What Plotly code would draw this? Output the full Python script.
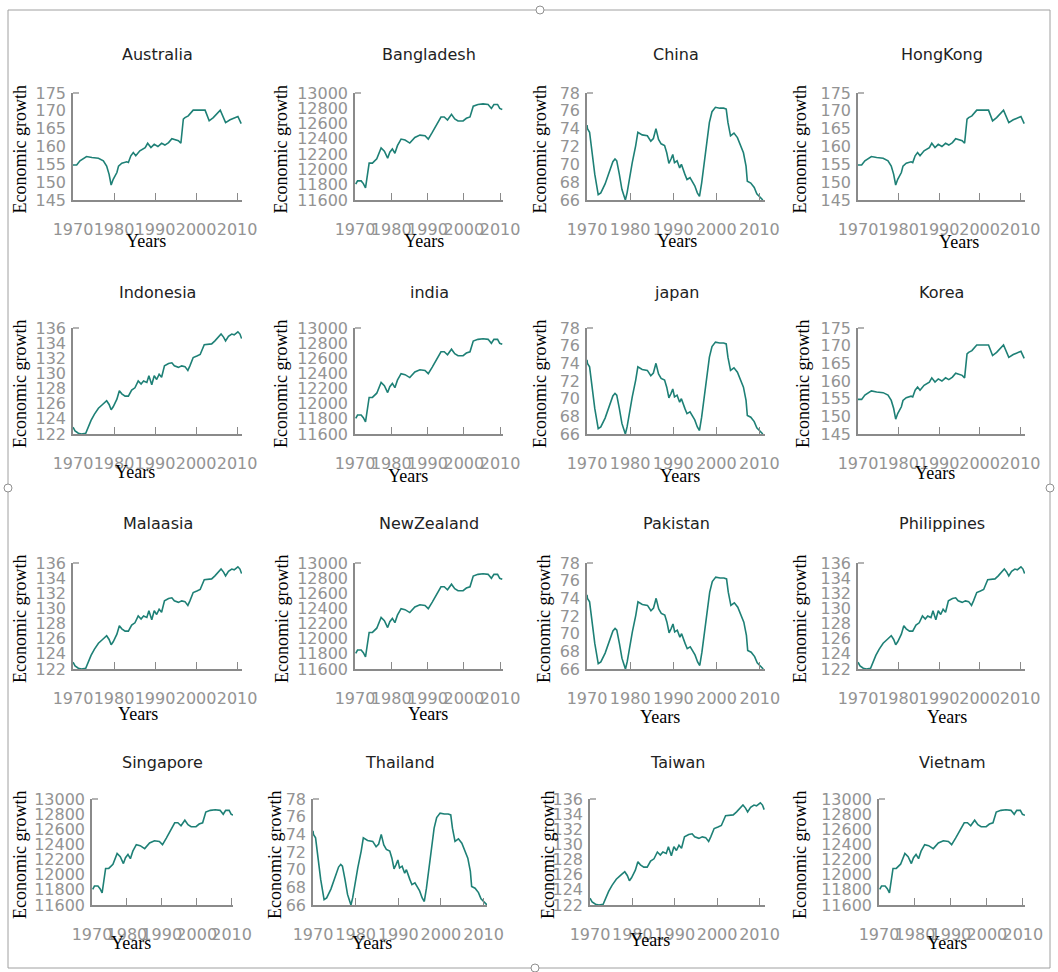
import plotly.graph_objects as go

# ---------------- data ----------------
countries = ["Australia", "Bangladesh", "China", "HongKong",
             "Indonesia", "india", "japan", "Korea",
             "Malaasia", "NewZealand", "Pakistan", "Philippines",
             "Singapore", "Thailand", "Taiwan", "Vietnam"]
series_of = ["A", "B", "C", "A",
             "D", "B", "C", "A",
             "D", "B", "C", "D",
             "B", "C", "D", "B"]

year_ticks = [1970, 1980, 1990, 2000, 2010]

a_years = [1970.0, 1970.9, 1971.7, 1973.3, 1974.6, 1976.2, 1977.4, 1978.2, 1978.8, 1979.3,
           1979.8, 1980.7, 1981.1, 1981.9, 1983.1, 1983.5, 1984.1, 1984.7, 1985.3, 1986.3,
           1987.6, 1988.2, 1989.0, 1989.8, 1990.7, 1991.6, 1992.4, 1993.3, 1994.1, 1994.9,
           1995.7, 1996.3, 1996.9, 1997.3, 1998.1, 1999.3, 2000.6, 2002.2, 2003.2, 2004.2,
           2005.9, 2007.2, 2008.3, 2009.1, 2010.2, 2011.0]
a_values = [154.8, 154.8, 156.0, 157.2, 156.9, 156.7, 156.0, 154.5, 152.2, 149.2,
            150.8, 152.7, 154.5, 155.3, 155.7, 155.5, 157.4, 158.3, 157.4, 158.8,
            159.7, 160.9, 159.7, 160.6, 160.0, 160.9, 160.4, 161.1, 162.2, 161.9,
            161.6, 160.9, 167.7, 168.1, 168.6, 170.2, 170.2, 170.2, 167.2, 168.1,
            170.2, 166.7, 167.5, 167.8, 168.4, 166.4]
a_ticks = [145, 150, 155, 160, 165, 170, 175]

b_years = [1970.2, 1970.7, 1971.7, 1972.3, 1972.9, 1973.5, 1973.9, 1974.8, 1976.0, 1977.2,
           1978.1, 1979.0, 1979.6, 1980.3, 1981.0, 1981.7, 1982.7, 1983.8, 1985.1, 1986.5,
           1987.9, 1989.3, 1990.2, 1991.3, 1992.5, 1993.7, 1994.6, 1995.5, 1996.6, 1997.5,
           1998.4, 1999.8, 2000.7, 2001.7, 2002.6, 2003.9, 2005.3, 2006.7, 2007.6, 2008.3,
           2009.3, 2009.9, 2010.6]
b_values = [11807, 11850, 11850, 11815, 11760, 11966, 12083, 12083, 12139, 12281,
            12238, 12147, 12225, 12268, 12212, 12311, 12397, 12384, 12345, 12419,
            12449, 12440, 12397, 12484, 12591, 12686, 12686, 12647, 12720, 12660,
            12634, 12634, 12669, 12686, 12828, 12850, 12858, 12850, 12798, 12850,
            12850, 12798, 12785]
b_ticks = [11600, 11800, 12000, 12200, 12400, 12600, 12800, 13000]

c_years = [1970.0, 1970.1, 1970.6, 1971.2, 1971.8, 1972.6, 1973.2, 1974.2, 1975.1, 1976.0,
           1976.5, 1976.9, 1977.5, 1978.1, 1978.5, 1978.9, 1979.3, 1979.7, 1980.5, 1981.3,
           1981.8, 1982.8, 1984.0, 1984.8, 1985.4, 1986.0, 1986.6, 1987.2, 1988.0, 1988.5,
           1989.0, 1989.5, 1989.9, 1990.3, 1990.9, 1991.5, 1991.9, 1992.7, 1993.2, 1993.9,
           1994.6, 1995.0, 1995.6, 1996.1, 1996.6, 1997.2, 1997.8, 1998.4, 1999.0, 1999.8,
           2000.8, 2001.7, 2002.3, 2002.7, 2003.3, 2004.1, 2004.9, 2005.5, 2006.3, 2006.9,
           2007.2, 2008.0, 2008.8, 2009.4, 2010.2, 2010.8]
c_values = [74.4, 74.0, 73.6, 71.3, 68.9, 66.6, 66.8, 67.8, 69.1, 70.3,
            70.6, 70.4, 68.9, 67.2, 66.6, 66.0, 66.8, 68.0, 70.2, 72.1,
            73.6, 73.3, 73.2, 72.6, 72.9, 74.0, 72.8, 72.3, 72.1, 71.3,
            70.1, 70.6, 71.1, 70.2, 70.4, 69.6, 70.0, 68.9, 68.3, 68.5,
            67.9, 67.6, 66.8, 66.4, 67.9, 70.2, 72.3, 74.7, 75.9, 76.4,
            76.3, 76.3, 76.2, 74.7, 73.2, 73.5, 73.0, 72.3, 71.3, 69.8,
            68.1, 67.9, 67.4, 66.7, 66.3, 66.0]
c_ticks = [66, 68, 70, 72, 74, 76, 78]

d_years = [1970.0, 1970.5, 1971.3, 1972.1, 1973.1, 1973.7, 1974.4, 1975.2, 1976.2, 1977.2,
           1978.2, 1978.8, 1979.3, 1979.8, 1980.7, 1981.3, 1981.9, 1982.7, 1983.5, 1984.3,
           1985.1, 1985.9, 1986.6, 1987.2, 1988.0, 1988.5, 1989.2, 1989.8, 1990.4, 1991.0,
           1991.6, 1992.3, 1993.3, 1994.1, 1994.7, 1995.7, 1996.5, 1997.3, 1998.0, 1998.5,
           1999.3, 2000.2, 2001.0, 2002.0, 2003.0, 2003.8, 2004.6, 2005.4, 2006.1, 2006.7,
           2007.2, 2007.9, 2008.7, 2009.3, 2010.2, 2010.7, 2011.1]
d_values = [122.9, 122.4, 122.1, 122.0, 122.1, 122.9, 123.8, 124.6, 125.4, 125.9,
            126.4, 125.9, 125.2, 125.6, 126.6, 127.7, 127.3, 127.0, 127.0, 127.8,
            128.1, 129.0, 128.6, 129.0, 128.8, 129.7, 128.5, 129.7, 129.2, 129.9,
            129.5, 131.0, 131.3, 131.4, 131.0, 130.8, 131.0, 130.9, 130.4, 131.0,
            132.1, 132.3, 132.5, 133.8, 133.9, 133.9, 134.3, 134.8, 135.2, 134.8,
            134.3, 134.9, 135.2, 135.1, 135.5, 135.2, 134.6]
d_ticks = [122, 124, 126, 128, 130, 132, 134, 136]

series = {
    "A": (a_years, a_values, a_ticks),
    "B": (b_years, b_values, b_ticks),
    "C": (c_years, c_values, c_ticks),
    "D": (d_years, d_values, d_ticks),
}

# ---------------- layout (pixels) ----------------
W, H = 1058, 972
panel_x = [(73, 242), (355, 503), (587, 765), (858, 1025),
           (73, 242), (355, 503), (587, 765), (858, 1025),
           (73, 242), (355, 503), (587, 765), (858, 1025),
           (92, 233), (313, 487), (590, 765), (879, 1025)]
row_y = [(93, 200), (328, 434), (563, 669), (799, 905)]
title_y = [55, 292, 523, 762]
years_pos = [(146, 241), (424, 241), (677, 241), (959, 242),
             (135, 472), (408, 476), (680, 476), (935, 473),
             (138, 714), (428, 714), (660, 717), (947, 717),
             (131, 943), (372, 943), (650, 940), (947, 943)]
ylab_x = [20, 281, 540, 800,
          20, 281, 540, 803,
          20, 282, 544, 800,
          20, 275, 548, 800]
x_end = [2011.2, 2010.8, 2011.3, 2011.2,
         2011.2, 2010.8, 2011.3, 2011.2,
         2011.2, 2010.8, 2011.2, 2011.2,
         2010.4, 2010.8, 2011.3, 2010.6]

LINE = "#1e8076"
AX = "#8a8a8a"
TICKFONT = dict(family="DejaVu Sans", size=16, color="#939393")
SERIF = dict(family="Liberation Serif", size=18, color="#000000")


def fx(x):
    return x / W


def fy(y):
    return 1 - y / H


fig = go.Figure()
annotations = []
shapes = []
layout_axes = {}
for i, (name, key) in enumerate(zip(countries, series_of)):
    idx = i + 1
    sfx = "" if idx == 1 else str(idx)
    xs, ys, yt = series[key]
    x0, x1 = panel_x[i]
    y0, y1 = row_y[i // 4]
    fig.add_trace(go.Scatter(x=xs, y=ys, mode="lines",
                             line=dict(color=LINE, width=1.6),
                             xaxis="x" + sfx, yaxis="y" + sfx,
                             showlegend=False, hoverinfo="skip"))
    layout_axes["xaxis" + sfx] = dict(
        domain=[fx(x0), fx(x1)], anchor="y" + sfx,
        range=[1970, x_end[i]], tickvals=year_ticks,
        ticktext=[str(v) for v in year_ticks],
        ticks="inside", ticklen=7, tickwidth=1.3, tickcolor=AX,
        showline=True, linecolor=AX, linewidth=1.5,
        showgrid=False, zeroline=False, tickfont=TICKFONT, tickangle=0,
        ticklabelstandoff=14, automargin=False, fixedrange=True)
    layout_axes["yaxis" + sfx] = dict(
        domain=[fy(y1), fy(y0)], anchor="x" + sfx,
        range=[yt[0], yt[-1]], tickvals=yt,
        ticktext=[str(v) for v in yt],
        ticks="", showline=True, linecolor=AX, linewidth=1.5,
        showgrid=False, zeroline=False, tickfont=TICKFONT,
        ticklabelstandoff=2, automargin=False, fixedrange=True)
    # small cap tick at the top of the y axis
    shapes.append(dict(type="line", xref="x" + sfx + " domain", yref="y" + sfx + " domain",
                       x0=0, x1=6 / (x1 - x0), y0=1, y1=1,
                       line=dict(color=AX, width=1.3)))
    # panel title
    annotations.append(dict(text=name, x=fx((x0 + x1) / 2), y=fy(title_y[i // 4]),
                            xref="paper", yref="paper", showarrow=False,
                            xanchor="center", yanchor="middle",
                            font=dict(family="DejaVu Sans", size=16, color="#222222")))
    # x-axis title
    yx, yy = years_pos[i]
    annotations.append(dict(text="Years", x=fx(yx), y=fy(yy),
                            xref="paper", yref="paper", showarrow=False,
                            xanchor="center", yanchor="middle", font=SERIF))
    # y-axis title
    annotations.append(dict(text="Economic growth", x=fx(ylab_x[i]), y=fy((y0 + y1) / 2 + 3),
                            xref="paper", yref="paper", showarrow=False, textangle=-90,
                            xanchor="center", yanchor="middle", font=SERIF))

shapes.append(dict(type="rect", xref="paper", yref="paper",
                   x0=fx(8), x1=fx(1050), y0=fy(968), y1=fy(10),
                   line=dict(color="#a0a0a0", width=1), fillcolor="rgba(0,0,0,0)", layer="below"))
for hx, hy in [(540, 10), (8, 488), (1050, 488), (535, 968)]:
    shapes.append(dict(type="circle", xref="paper", yref="paper",
                       x0=fx(hx - 4), x1=fx(hx + 4), y0=fy(hy + 4), y1=fy(hy - 4),
                       line=dict(color="#909090", width=1), fillcolor="white"))

fig.update_layout(
    template="none",
    width=W, height=H, autosize=False,
    margin=dict(l=0, r=0, t=0, b=0, pad=0),
    paper_bgcolor="white", plot_bgcolor="white",
    annotations=annotations, shapes=shapes,
    **layout_axes,
)

fig.write_html("out.html",
               config={"displayModeBar": False},
               post_script="document.body.style.margin='0';document.body.style.overflow='hidden';")
